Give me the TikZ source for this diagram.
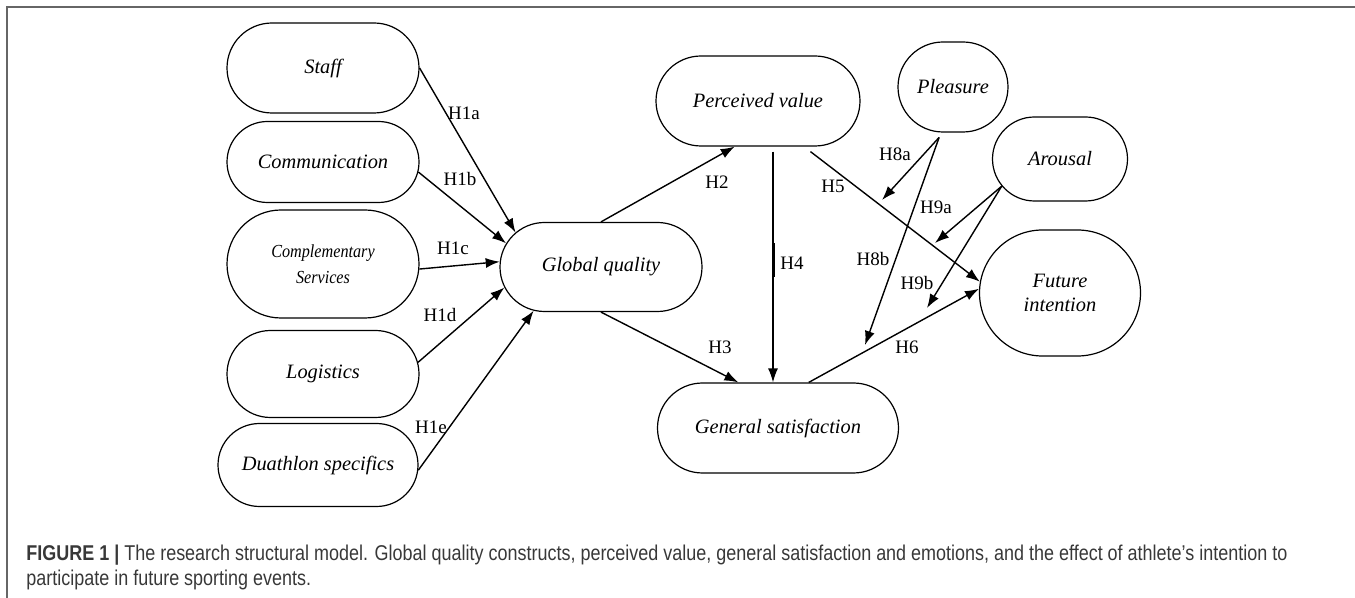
\documentclass[tikz,border=0pt]{standalone}
\usepackage{fontspec}
\setmainfont{Liberation Serif}
\newfontfamily\capfont[FakeStretch=0.84]{Liberation Sans}
\newfontfamily\narrowserif[FakeStretch=0.88]{Liberation Serif}
\usetikzlibrary{shapes.misc,arrows.meta,calc}

\begin{document}
\begin{tikzpicture}[
    x=0.5pt, y=-0.5pt,
    construct/.style={draw, rounded rectangle, line width=0.6pt, inner sep=2pt,
      font=\fontsize{10.2}{12}\selectfont\itshape, align=center},
    hyp/.style={font=\fontsize{9.5}{11}\selectfont, inner sep=1pt},
    link/.style={line width=0.7pt, -{Latex[length=7pt,width=5pt]}},
    caption/.style={font=\capfont\fontsize{10.7}{12.5}\selectfont, text=black!78,
      align=left, inner sep=0pt}
  ]
  \useasboundingbox (0,0) rectangle (1355,598);
  \draw[black!60, line width=0.8pt] (1355,7) -- (7,7) -- (7,598);

  % quality dimensions
  \node[construct, minimum width=100pt, minimum height=45pt] (staff) at (323,68) {Staff};
  \node[construct, minimum width=100pt, minimum height=40.5pt] (comm) at (323,162) {Communication};
  \node[construct, minimum width=100pt, minimum height=54pt,
    font=\narrowserif\fontsize{9.2}{13}\selectfont\itshape] (comp) at (323,264) {Complementary\\Services};
  \node[construct, minimum width=100pt, minimum height=43.5pt] (logi) at (323,374) {Logistics};
  \node[construct, minimum width=104pt, minimum height=41.5pt] (duath) at (318,465) {Duathlon specifics};

  % main constructs
  \node[construct, minimum width=105pt, minimum height=44.5pt] (gq) at (601,267) {Global quality};
  \node[construct, minimum width=106pt, minimum height=45pt] (pv) at (758,101) {Perceived value};
  \node[construct, minimum width=124.5pt, minimum height=45pt] (gs) at (778,428) {General satisfaction};
  \node[construct, minimum width=84.5pt, minimum height=63pt] (fi) at (1060,293) {Future\\intention};

  % emotions
  \node[construct, minimum width=59pt, minimum height=45pt] (pleas) at (953,87) {Pleasure};
  \node[construct, minimum width=71.5pt, minimum height=42pt] (arous) at (1060,159) {Arousal};

  % moderation targets
  \coordinate (m8a) at (882,200);
  \coordinate (m8b) at (865,345);
  \coordinate (m9a) at (935,243);
  \coordinate (m9b) at (927,308);
  \coordinate (ps) at ([yshift=-2.5pt]pleas.253);
  \coordinate (h4s) at ([xshift=7.5pt,yshift=-2.5pt]pv.south);
  \coordinate (h4e) at (h4s |- gs.north);

  \draw[link] (staff.east) -- (gq.158);
  \draw[link] (comm.-6) -- (gq.166);
  \draw[link] (comp.-3) -- (gq.177);
  \draw[link] (logi.7) -- (gq.192);
  \draw[link] (duath.-3) -- (gq.213);
  \draw[link] (gq.north) -- (pv.243);
  \draw[link] (gq.south) -- (gs.131.6);
  \draw[link] (h4s) -- (h4e);
  \draw[line width=1.5pt] ($(h4s)!0.397!(h4e)$) -- ($(h4s)!0.543!(h4e)$);
  \draw[link] ([yshift=-2.5pt]pv.-41) -- (fi.172);
  \draw[link] (gs.56) -- (fi.177);
  \draw[link] (ps) -- (m8a);
  \draw[link] (ps) -- (m8b);
  \draw[link] (arous.205) -- (m9a);
  \draw[link] (arous.205) -- (m9b);

  \node[hyp] (h1a) at (464,113) {H1a};
  \node[hyp] (h1b) at (460,179) {H1b};
  \node[hyp] (h1c) at (453,248) {H1c};
  \node[hyp] (h1d) at (440,315) {H1d};
  \node[hyp] (h1e) at (431,427) {H1e};
  \node[hyp] (h2) at (717,182) {H2};
  \node[hyp] (h3) at (720,347) {H3};
  \node[hyp] (h4) at (792,263) {H4};
  \node[hyp] (h5) at (833,186) {H5};
  \node[hyp] (h6) at (907,347) {H6};
  \node[hyp] (h8a) at (895,154) {H8a};
  \node[hyp] (h8b) at (873,259) {H8b};
  \node[hyp] (h9a) at (936,207) {H9a};
  \node[hyp] (h9b) at (917,283) {H9b};

  \node[caption, anchor=north west] (cap) at (26,545) {\textbf{FIGURE 1 |} The research structural model. Global quality constructs, perceived value, general satisfaction and emotions, and the effect of athlete’s intention to\\participate in future sporting events.};
\end{tikzpicture}
\end{document}
